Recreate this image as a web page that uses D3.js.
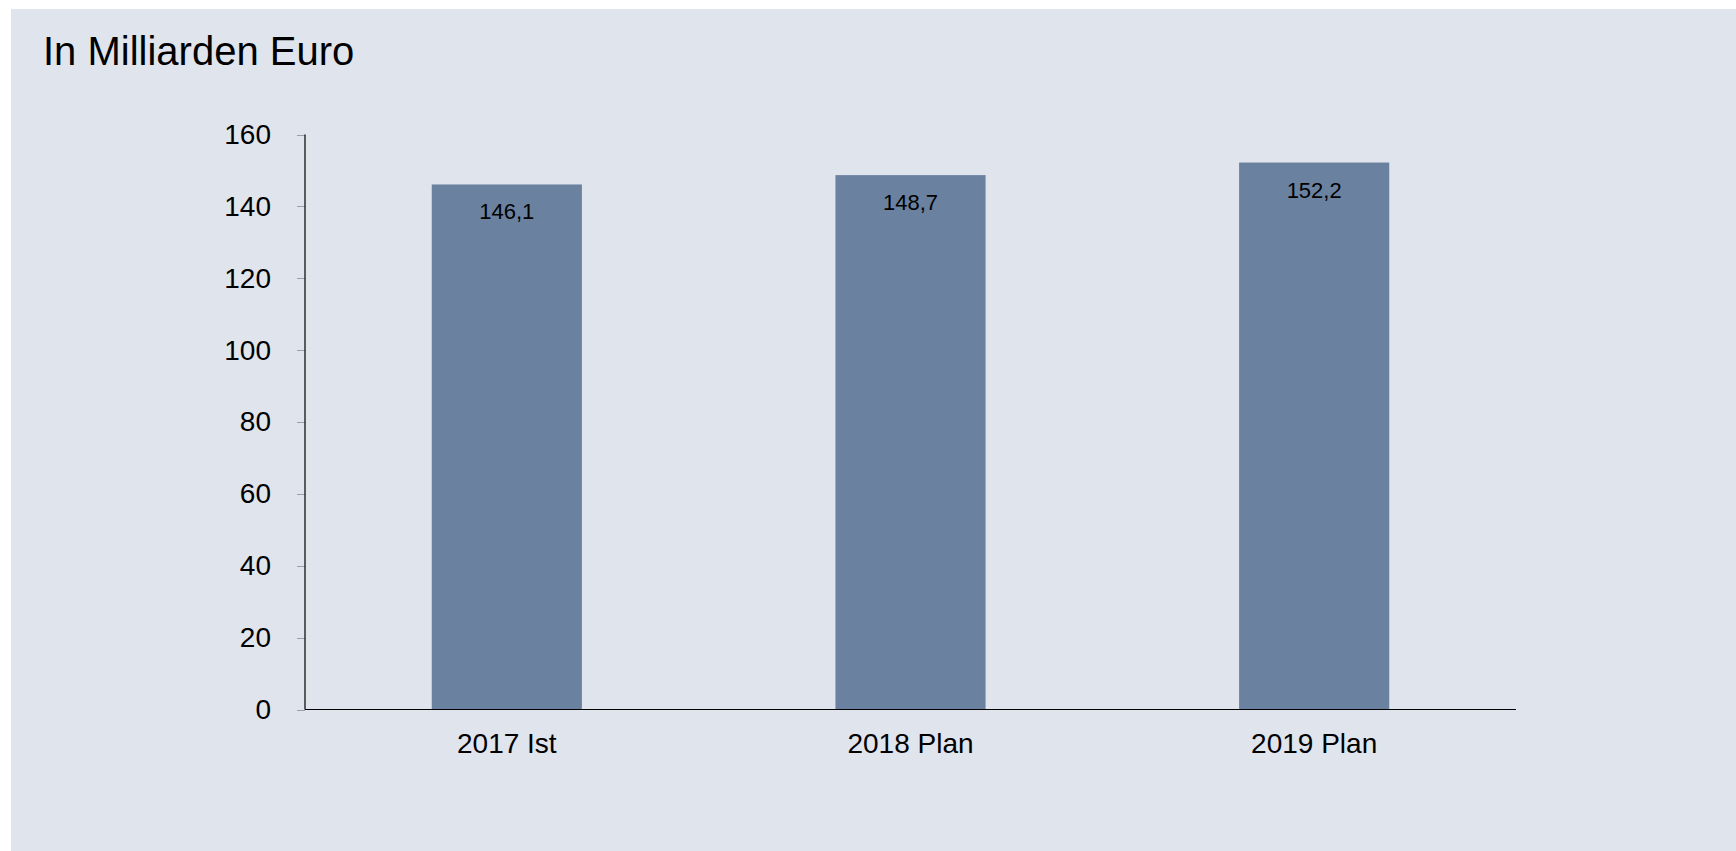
<!DOCTYPE html>
<html>
<head>
<meta charset="utf-8">
<script src="https://cdn.jsdelivr.net/npm/d3@7"></script>
<style>
  html, body { margin: 0; padding: 0; background: #ffffff; }
  svg { display: block; }
  text { font-family: "Liberation Sans", Arial, sans-serif; fill: #000; }
</style>
</head>
<body>
<svg id="chart" width="1736" height="851"></svg>
<script>
const categories = ["2017 Ist", "2018 Plan", "2019 Plan"];
const values = [146.1, 148.7, 152.2];
const valueLabels = ["146,1", "148,7", "152,2"];
const yTicks = [0, 20, 40, 60, 80, 100, 120, 140, 160];
const title = "In Milliarden Euro";

const svg = d3.select("#chart");
const W = 1736, H = 851;

svg.append("rect").attr("x", 11).attr("y", 9).attr("width", W - 11).attr("height", H - 9)
  .attr("fill", "#e0e4ed");

svg.append("text").attr("x", 43).attr("y", 65).attr("font-size", 40).text(title);

const x0 = 305, x1 = 1516, yTop = 134.5, yBot = 709.5;
const x = d3.scaleBand().domain(categories).range([x0, x1]).paddingInner(0.628).paddingOuter(0.314);
const y = d3.scaleLinear().domain([0, 160]).range([yBot, yTop]);

// bars
svg.append("g").selectAll("rect").data(values).join("rect")
  .attr("x", (d, i) => x(categories[i]))
  .attr("y", d => y(d))
  .attr("width", x.bandwidth())
  .attr("height", d => y(0) - y(d))
  .attr("fill", "#6a82a0");

// value labels
svg.append("g").selectAll("text").data(values).join("text")
  .attr("x", (d, i) => x(categories[i]) + x.bandwidth() / 2)
  .attr("y", d => y(d) + 35)
  .attr("text-anchor", "middle")
  .attr("font-size", 22)
  .text((d, i) => valueLabels[i]);

// y axis
const yAxis = svg.append("g").attr("transform", `translate(${x0},0)`)
  .call(d3.axisLeft(y).tickValues(yTicks).tickSize(8).tickPadding(26).tickFormat(d3.format("d")));
yAxis.select(".domain").remove();
yAxis.selectAll(".tick line").attr("stroke", "#a0a0a0").attr("shape-rendering", "crispEdges");
yAxis.selectAll(".tick text").attr("font-size", 28).attr("font-family", "Liberation Sans, Arial, sans-serif").attr("fill", "#000");

// x axis
const xAxis = svg.append("g").attr("transform", `translate(0,${yBot})`)
  .call(d3.axisBottom(x).tickSize(0).tickPadding(24));
xAxis.select(".domain").remove();
xAxis.selectAll(".tick text").attr("font-size", 28).attr("font-family", "Liberation Sans, Arial, sans-serif").attr("fill", "#000");

// axis lines
svg.append("line").attr("x1", x0).attr("x2", x0).attr("y1", yTop).attr("y2", yBot)
  .attr("stroke", "#000").attr("stroke-width", 1.2);
svg.append("line").attr("x1", x0).attr("x2", x1).attr("y1", yBot).attr("y2", yBot)
  .attr("stroke", "#000").attr("stroke-width", 1.2);
</script>
</body>
</html>
